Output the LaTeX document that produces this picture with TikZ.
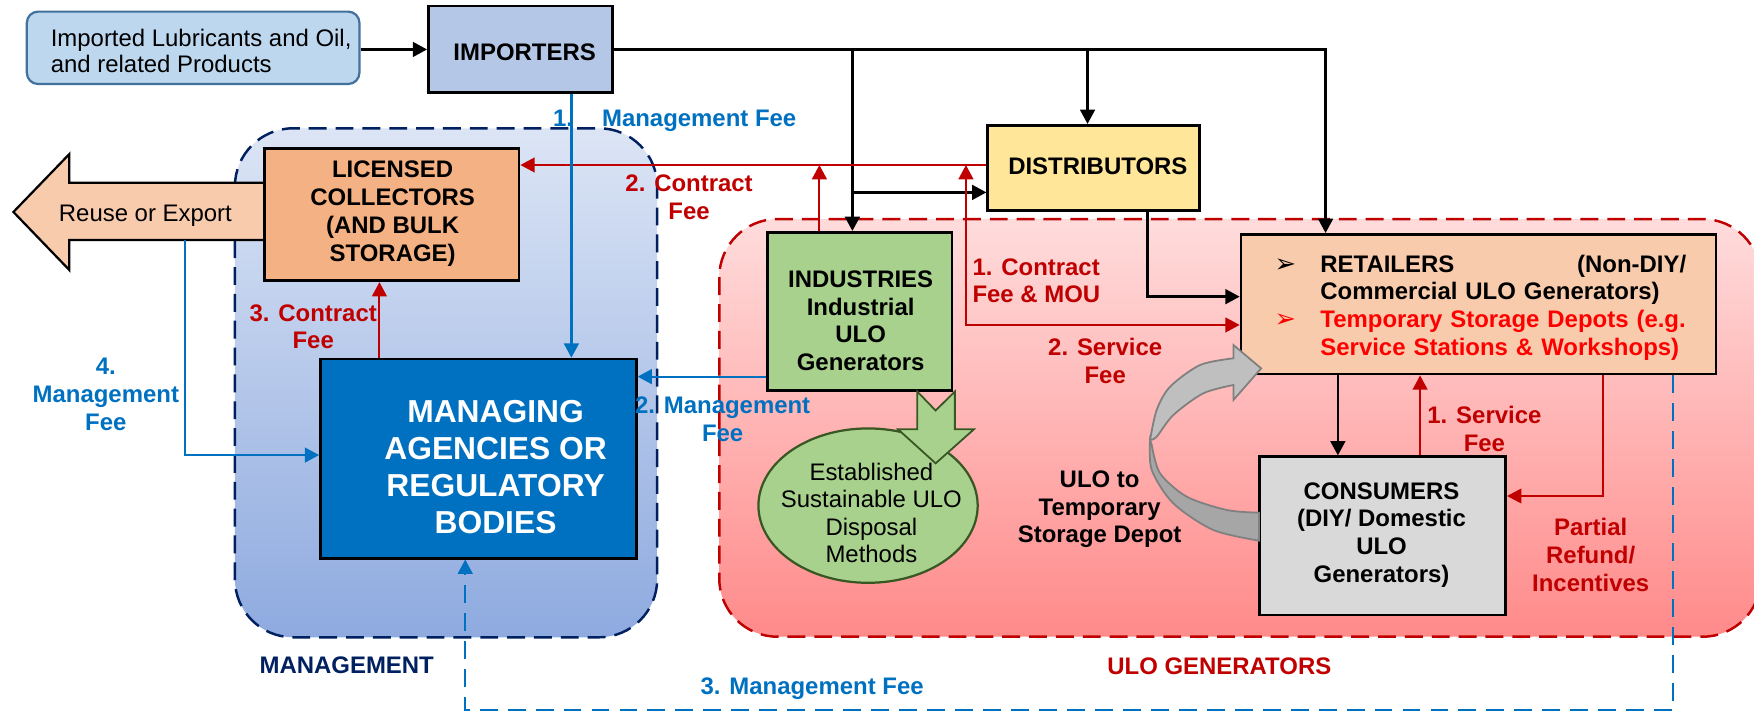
\documentclass[tikz,border=0pt]{standalone}
\usepackage{fontspec}
\setmainfont{Liberation Sans}
\newfontfamily\dejavu{DejaVu Sans}
\usetikzlibrary{arrows.meta,shapes.geometric}
\definecolor{cImpFill}{HTML}{BDD7EE}
\definecolor{cImpDraw}{HTML}{41719C}
\definecolor{cImporters}{HTML}{B4C7E7}
\definecolor{cDist}{HTML}{FFE699}
\definecolor{cLic}{HTML}{F4B183}
\definecolor{cPeach}{HTML}{F8CBAD}
\definecolor{cGreen}{HTML}{A9D18E}
\definecolor{cDkGreen}{HTML}{385723}
\definecolor{cCons}{HTML}{D9D9D9}
\definecolor{cBlue}{HTML}{0070C0}
\definecolor{cRed}{HTML}{C00000}
\definecolor{cBright}{HTML}{FF0000}
\definecolor{cNavy}{HTML}{002060}
\definecolor{cMtop}{HTML}{DCE5F5}
\definecolor{cMbot}{HTML}{8EAADF}
\definecolor{cUtop}{HTML}{FFDCDC}
\definecolor{cUbot}{HTML}{FF8A8A}
\definecolor{cGrayL}{HTML}{BFBFBF}
\definecolor{cGrayD}{HTML}{A6A6A6}
\definecolor{cGrayE}{HTML}{808080}
\newcommand{\retbullet}{{\dejavu\fontsize{11.5}{11.5}\selectfont ➢}}
\begin{document}
\begin{tikzpicture}[x=0.5pt,y=-0.5pt,
  bx/.style={draw=black, line width=1.2pt, inner sep=0pt},
  lbl/.style={inner sep=0pt, align=center, font=\bfseries\fontsize{10.7}{12.4}\selectfont},
  plainlbl/.style={inner sep=0pt, align=center, font=\fontsize{10.7}{12.3}\selectfont},
  arrowtip/.style={-{Triangle[length=6.4pt,width=6.6pt]}},
  blk/.style={line width=1.1pt, arrowtip},
  rarr/.style={line width=0.9pt, draw=cRed, arrowtip},
  barr/.style={line width=1pt, draw=cBlue, arrowtip},
  region/.style={line width=1.1pt, dash pattern=on 8pt off 4pt},
]
\useasboundingbox (0,0) rectangle (1568,636);

% regions
\draw[region, draw=cNavy, rounded corners=26pt, top color=cMtop, bottom color=cMbot] (210,114.7) rectangle (587.5,569.7);
\draw[region, draw=cRed, rounded corners=26pt, top color=cUtop, bottom color=cUbot] (643,195.8) rectangle (1574,569.2);

% source box
\node[bx, fill=cImpFill, draw=cImpDraw, line width=1pt, rounded corners=5pt, minimum width=148.65pt, minimum height=32.35pt] (imp) at (172.65,42.75) {};
\node[plainlbl, anchor=west, align=left, font=\fontsize{10.7}{11.7}\selectfont] (impT) at (45,45.5) {Imported Lubricants and Oil,\\and related Products};

\node[bx, fill=cImporters, minimum width=82.3pt, minimum height=38.75pt] (importers) at (465.3,44.2) {};
\node[lbl] (importersT) at (469,47) {IMPORTERS};

\node[bx, fill=cDist, minimum width=94.5pt, minimum height=38pt] (dis) at (977.5,150) {};
\node[lbl] (disT) at (981.4,149) {DISTRIBUTORS};

% reuse arrow
\draw[fill=cPeach, line width=1pt, line join=miter] (245,163.3) -- (62,163.3) -- (62,137.7) -- (12,189.5) -- (62,241.4) -- (62,214.6) -- (245,214.6) -- cycle;
\node[plainlbl] (reuseT) at (130,193) {Reuse or Export};
\coordinate (reuseb) at (165.6,214.6);

\node[bx, fill=cLic, minimum width=113.65pt, minimum height=59.2pt] (lic) at (350.35,191.8) {};
\node[lbl] (licT) at (351,191) {LICENSED\\COLLECTORS\\(AND BULK\\STORAGE)};

\node[bx, fill=cBlue, minimum width=141.15pt, minimum height=89pt] (mng) at (427.65,410) {};
\node[lbl, text=white, font=\bfseries\fontsize{14.2}{16.6}\selectfont] (mngT) at (443,417.5) {MANAGING\\AGENCIES OR\\REGULATORY\\BODIES};

\node[ellipse, draw=cDkGreen, fill=cGreen, line width=1pt, minimum width=98pt, minimum height=69pt, inner sep=0pt] (meth) at (776,452) {};
\node[plainlbl] (methT) at (779,458.6) {Established\\Sustainable ULO\\Disposal\\Methods};

\node[bx, fill=cGreen, minimum width=82.5pt, minimum height=70.65pt] (ind) at (768.5,278.35) {};
\node[lbl] (indT) at (769.4,286.8) {INDUSTRIES\\Industrial\\ULO\\Generators};

% green block arrow
\draw[fill=cGreen, draw=cDkGreen, line width=0.8pt, line join=miter] (820,350) -- (836.4,367) -- (853.6,350) -- (853.6,383.8) -- (870.6,383.8) -- (836.4,414.2) -- (802.8,383.8) -- (820,383.8) -- cycle;

\node[bx, fill=cPeach, minimum width=212.3pt, minimum height=62.45pt] (ret) at (1321.7,271.95) {};
\node[lbl, align=left, text width=175pt, anchor=west] (retT) at (1180,275) {\leavevmode\llap{\makebox[20.5pt][l]{\retbullet}}\makebox[163.5pt][l]{RETAILERS\hfill(Non-DIY/}\\Commercial ULO Generators)\\\leavevmode\llap{\makebox[20.5pt][l]{\color{cBright}\retbullet}}\textcolor{cBright}{Temporary Storage Depots (e.g.}\\\textcolor{cBright}{Service Stations \& Workshops)}};

\node[bx, fill=cCons, minimum width=110pt, minimum height=70.75pt] (con) at (1236,479.05) {};
\node[lbl] (conT) at (1235,478.2) {CONSUMERS\\(DIY/ Domestic\\ULO\\Generators)};

% gray circular arrow
\filldraw[fill=cGrayD, draw=cGrayE, line width=0.8pt] plot[smooth] coordinates {(1029.6,397.8) (1037,423.1) (1060.9,444) (1096.6,455.9) (1125.4,458.3)} -- (1125.4,483.3) -- plot[smooth] coordinates {(1125.4,483.3) (1084.7,473.8) (1048.9,450) (1029.6,420.2) (1028.1,393.3)} -- cycle;
\filldraw[fill=cGrayL, draw=cGrayE, line width=0.8pt, line join=miter] (1102.6,308.4) -- (1127.4,329.3) -- (1102.6,357.6) -- (1102.6,344.2) -- plot[smooth] coordinates {(1102.6,344.2) (1075.7,351.6) (1048.9,371) (1034,390.4) (1028.1,393.3)} -- plot[smooth] coordinates {(1028.1,393.3) (1034,366.5) (1046,345.7) (1072.8,326.3) (1102.6,320.3)} -- cycle;

% black connectors
\draw[blk] (imp.east |- importers.west) -- (importers.west);
\coordinate (tr) at (1185,44.2);
\draw[blk] (importers.east) -- (tr) -- (tr |- ret.north);
\coordinate (b1) at (762,44.2);
\draw[blk] (b1) -- (b1 |- ind.north);
\coordinate (b1d) at (762,172);
\draw[blk] (b1d) -- (b1d -| dis.west);
\coordinate (b2) at (972.2,44.2);
\draw[blk] (b2) -- (b2 |- dis.north);
\coordinate (d1) at (1026,265.2);
\draw[blk] (d1 |- dis.south) -- (d1) -- (d1 -| ret.west);
\coordinate (rc) at (1196,380);
\draw[blk] (rc |- ret.south) -- (rc |- con.north);

% red connectors
\coordinate (rl) at (700,147.5);
\draw[rarr] (rl -| dis.west) -- (rl -| lic.east);
\coordinate (ru1) at (732.5,180);
\draw[rarr] (ru1 |- ind.north) -- (ru1 |- rl);
\coordinate (ru2) at (863.5,290.5);
\draw[rarr, {Triangle[length=6.4pt,width=6.6pt]}-{Triangle[length=6.4pt,width=6.6pt]}] (ru2 |- rl) -- (ru2) -- (ru2 -| ret.west);
\coordinate (r3) at (339.2,290);
\draw[rarr] (r3 |- mng.north) -- (r3 |- lic.south);
\coordinate (r4) at (1269.5,380);
\draw[rarr] (r4 |- con.north) -- (r4 |- ret.south);
\coordinate (r5) at (1433,443.4);
\draw[rarr, line width=0.6pt] (r5 |- ret.south) -- (r5) -- (r5 -| con.east);

% blue connectors
\coordinate (bl1) at (510.8,200);
\draw[barr] (bl1 |- importers.south) -- (bl1 |- mng.north);
\coordinate (bl2) at (620,336.7);
\draw[barr] (bl2 -| ind.west) -- (bl2 -| mng.east);
\coordinate (bl4) at (165.6,406.8);
\draw[barr] (reuseb) -- (bl4) -- (bl4 -| mng.west);
\coordinate (bl3) at (1495.6,634.8);
\coordinate (bl3b) at (415.9,634.8);
\draw[barr, dash pattern=on 8pt off 4.5pt] (bl3 |- ret.south) -- (bl3) -- (bl3b) -- (bl3b |- mng.south);

% labels
\node[lbl, text=cBlue, anchor=west] (l1m) at (494,108) {1.\hspace{13pt}Management Fee};
\node[lbl, text=cRed] (l2c) at (616,176.5) {2. Contract\\Fee};
\node[lbl, text=cRed] (l3c) at (280,292) {3. Contract\\Fee};
\node[lbl, text=cBlue] (l4m) at (94.6,352.4) {4.\\Management\\Fee};
\node[lbl, text=cBlue] (l2m) at (646,374.5) {2. Management\\Fee};
\node[lbl, text=cRed, anchor=west, align=left] (l1c) at (869,251) {1. Contract\\Fee \& MOU};
\node[lbl, text=cRed] (l2s) at (988,322.6) {2. Service\\Fee};
\node[lbl] (lulo) at (983,455.4) {ULO to\\Temporary\\Storage Depot};
\node[lbl, text=cRed] (l1s) at (1327,383.5) {1. Service\\Fee};
\node[lbl, text=cRed] (lref) at (1422,496) {Partial\\Refund/\\Incentives};
\node[lbl, text=cBlue] (l3m) at (726,616) {3. Management Fee};
\node[lbl, text=cNavy] (lmgmt) at (310,594.6) {MANAGEMENT};
\node[lbl, text=cRed] (lgen) at (1090,595.4) {ULO GENERATORS};
\end{tikzpicture}
\end{document}
